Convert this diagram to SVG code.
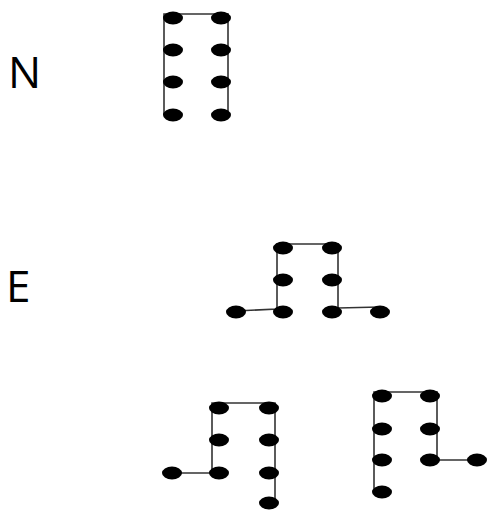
<svg xmlns="http://www.w3.org/2000/svg" width="488" height="512" viewBox="0 0 488 512">
<style>
.n{fill:#000}
.e{stroke:#333;stroke-width:1.6;fill:none}
.t{font-family:"Open Sans","Liberation Sans",sans-serif;font-size:44px;fill:#000}
</style>
<defs><ellipse id="d" rx="10" ry="6.5"/></defs>
<rect width="488" height="512" fill="#fff"/>
<text class="t" x="8" y="88">N</text>
<text class="t" x="6" y="302">E</text>
<g id="connectors">
<path class="e" d="M164,115 V14 H228 V115"/>
<path class="e" d="M236,311 L277,309 V244 H338 V308 L380,307"/>
<path class="e" d="M172,473 H212 V403 H275 V503"/>
<path class="e" d="M374,492 V392 H437 V460 H477"/>
</g>
<g id="N" class="n">
<use href="#d" x="173" y="18"/><use href="#d" x="221" y="18"/>
<use href="#d" x="173" y="50"/><use href="#d" x="221" y="50"/>
<use href="#d" x="173" y="82"/><use href="#d" x="221" y="82"/>
<use href="#d" x="173" y="115"/><use href="#d" x="221" y="115"/>
</g>
<g id="E" class="n">
<use href="#d" x="283" y="248"/><use href="#d" x="332" y="248"/>
<use href="#d" x="283" y="280"/><use href="#d" x="332" y="280"/>
<use href="#d" x="236" y="312"/><use href="#d" x="283" y="312"/>
<use href="#d" x="332" y="312"/><use href="#d" x="380" y="312"/>
</g>
<g id="A" class="n">
<use href="#d" x="219" y="408"/><use href="#d" x="269" y="408"/>
<use href="#d" x="219" y="440"/><use href="#d" x="269" y="440"/>
<use href="#d" x="172" y="473"/><use href="#d" x="219" y="473"/>
<use href="#d" x="269" y="473"/><use href="#d" x="269" y="503"/>
</g>
<g id="B" class="n">
<use href="#d" x="382" y="396"/><use href="#d" x="430" y="396"/>
<use href="#d" x="382" y="429"/><use href="#d" x="430" y="429"/>
<use href="#d" x="382" y="460"/><use href="#d" x="430" y="460"/>
<use href="#d" x="477" y="460"/><use href="#d" x="382" y="492"/>
</g>
</svg>
